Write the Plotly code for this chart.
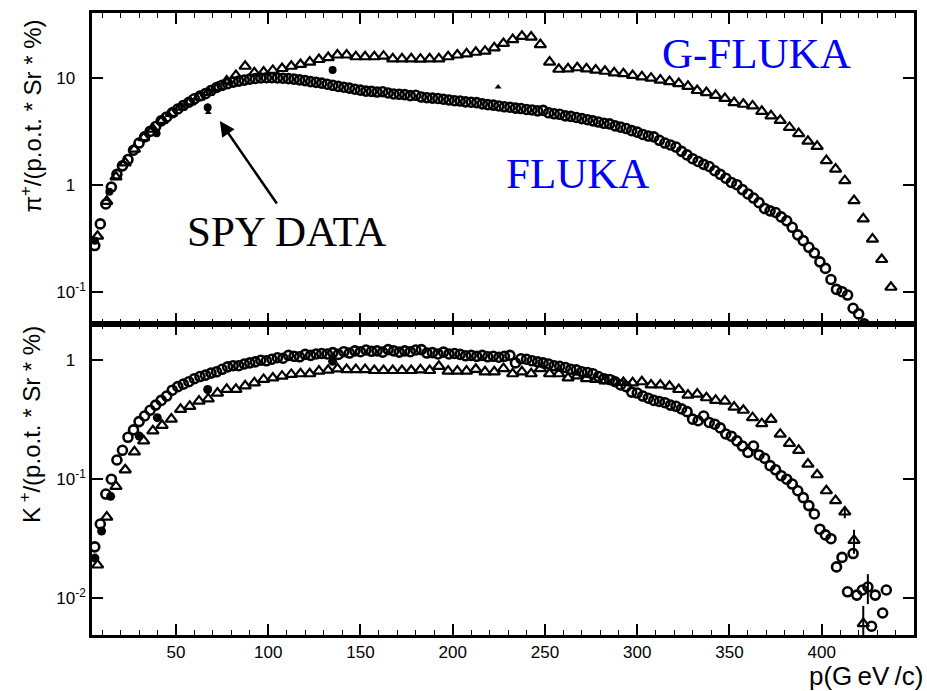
import plotly.graph_objects as go

# ---------------- pi+ panel ----------------
pi_fluka_p = [6, 9, 12, 15, 18, 21, 24, 27, 30, 33, 36, 39, 42, 45, 48, 51, 54, 57, 60, 63,
              66, 69, 72, 75, 78, 81, 84, 87, 90, 93, 96, 99, 102, 105, 108, 111, 114, 117, 120, 123,
              126, 129, 132, 135, 138, 141, 144, 147, 150, 153, 156, 159, 162, 165, 168, 171, 174, 177, 180, 183,
              186, 189, 192, 195, 198, 201, 204, 207, 210, 213, 216, 219, 222, 225, 228, 231, 234, 237, 240, 243,
              246, 249, 252, 255, 258, 261, 264, 267, 270, 273, 276, 279, 282, 285, 288, 291, 294, 297, 300, 303,
              306, 309, 312, 315, 318, 321, 324, 327, 330, 333, 336, 339, 342, 345, 348, 351, 354, 357, 360, 363,
              366, 369, 372, 375, 378, 381, 384, 387, 390, 393, 396, 399, 402, 405, 408, 411, 414, 417, 420, 423]
pi_fluka_v = [0.27, 0.43, 0.66, 0.95, 1.25, 1.5, 1.72, 2.1, 2.45, 2.8, 3.15, 3.5, 3.95, 4.3, 4.7, 5.1, 5.5, 5.9, 6.35, 6.75,
              7.1, 7.6, 8.1, 8.5, 8.8, 9.1, 9.3, 9.5, 9.7, 9.85, 9.95, 10.0, 10.0, 9.95, 9.9, 9.8, 9.7, 9.55, 9.4, 9.2,
              9.05, 8.9, 8.7, 8.5, 8.3, 8.15, 8.0, 7.8, 7.65, 7.5, 7.45, 7.35, 7.4, 7.2, 7.05, 7.0, 6.95, 6.8, 6.85, 6.6,
              6.5, 6.45, 6.4, 6.3, 6.2, 6.1, 6.05, 5.95, 5.9, 5.85, 5.7, 5.6, 5.55, 5.45, 5.35, 5.3, 5.2, 5.15, 5.05, 5.0,
              4.9, 4.95, 4.7, 4.6, 4.55, 4.4, 4.35, 4.25, 4.15, 4.05, 3.95, 3.85, 3.75, 3.7, 3.55, 3.45, 3.35, 3.2, 3.1, 2.95,
              2.85, 2.8, 2.6, 2.45, 2.35, 2.25, 2.05, 1.9, 1.75, 1.65, 1.55, 1.48, 1.35, 1.25, 1.15, 1.05, 1.0, 0.9, 0.82, 0.75,
              0.68, 0.6, 0.57, 0.55, 0.5, 0.46, 0.4, 0.34, 0.3, 0.26, 0.23, 0.19, 0.165, 0.13, 0.105, 0.1, 0.093, 0.07, 0.062, 0.05]

pi_gfluka_p = [7.5, 12.5, 17.5, 22.5, 27.5, 32.5, 37.5, 42.5, 47.5, 52.5, 57.5, 62.5, 67.5, 72.5, 77.5, 82.5, 87.5, 92.5,
               97.5, 102.5, 107.5, 112.5, 117.5, 122.5, 127.5, 132.5, 137.5, 142.5, 147.5, 152.5, 157.5, 162.5, 167.5,
               172.5, 177.5, 182.5, 187.5, 192.5, 197.5, 202.5, 207.5, 212.5, 217.5, 222.5, 227.5, 232.5, 237.5, 242.5,
               247.5, 252.5, 257.5, 262.5, 267.5, 272.5, 277.5, 282.5, 287.5, 292.5, 297.5, 302.5, 307.5, 312.5, 317.5,
               322.5, 327.5, 332.5, 337.5, 342.5, 347.5, 352.5, 357.5, 362.5, 367.5, 372.5, 377.5, 382.5, 387.5, 392.5,
               397.5, 402.5, 407.5, 412.5, 417.5, 422.5, 427.5, 432.5, 437.5]
pi_gfluka_v = [0.33, 0.7, 1.18, 1.6, 2.15, 2.75, 3.3, 4.0, 4.65, 5.3, 5.95, 6.6, 7.3, 8.1, 9.3, 10.5, 12.8, 11.1,
               11.3, 11.7, 12.2, 12.8, 13.3, 14.0, 14.8, 15.4, 16.3, 16.3, 15.7, 15.7, 15.7, 15.9, 15.0,
               15.0, 15.0, 14.9, 15.0, 15.0, 15.7, 16.3, 16.7, 17.3, 17.7, 19.0, 20.9, 22.7, 24.4, 24.0,
               20.4, 14.0, 12.0, 12.1, 12.4, 12.1, 11.8, 11.5, 11.1, 10.9, 10.5, 10.2, 9.9, 9.5, 9.2,
               8.8, 8.3, 7.6, 7.25, 6.85, 6.4, 5.85, 5.65, 5.45, 4.85, 4.4, 4.0, 3.43, 3.0, 2.55,
               2.28, 1.68, 1.4, 1.09, 0.71, 0.48, 0.31, 0.2, 0.11]

pi_spy_p = [6.1, 13.9, 39.5, 67.2, 134.9]
pi_spy_v = [0.30, 0.86, 3.03, 5.26, 11.8]
pi_spy_err = [0.02, 0.05, 0.15, 0.5, 0.6]
pi_spy2_p = [67.5, 224.6]
pi_spy2_v = [4.72, 8.2]

# ---------------- K+ panel ----------------
k_fluka_p = [6, 9, 12, 15, 18, 21, 24, 27, 30, 33, 36, 39, 42, 45, 48, 51, 54, 57, 60, 63,
             66, 69, 72, 75, 78, 81, 84, 87, 90, 93, 96, 99, 102, 105, 108, 111, 114, 117, 120, 123,
             126, 129, 132, 135, 138, 141, 144, 147, 150, 153, 156, 159, 162, 165, 168, 171, 174, 177, 180, 183,
             186, 189, 192, 195, 198, 201, 204, 207, 210, 213, 216, 219, 222, 225, 228, 231, 234, 237, 240, 243,
             246, 249, 252, 255, 258, 261, 264, 267, 270, 273, 276, 279, 282, 285, 288, 291, 294, 297, 300, 303,
             306, 309, 312, 315, 318, 321, 324, 327, 330, 333, 336, 339, 342, 345, 348, 351, 354, 357, 360, 363,
             366, 369, 372, 375, 378, 381, 384, 387, 390, 393, 396, 399, 402, 405, 408, 411, 414, 417, 419, 422,
             425, 427, 429, 433, 435]
k_fluka_v = [0.027, 0.042, 0.075, 0.1, 0.145, 0.175, 0.225, 0.26, 0.305, 0.34, 0.38, 0.42, 0.46, 0.5, 0.56, 0.6, 0.63, 0.66, 0.7, 0.73,
             0.75, 0.78, 0.8, 0.84, 0.88, 0.9, 0.9, 0.93, 0.95, 0.97, 1.0, 0.99, 1.02, 1.05, 1.04, 1.1, 1.08, 1.07, 1.12, 1.1,
             1.13, 1.14, 1.13, 1.16, 1.12, 1.18, 1.15, 1.2, 1.18, 1.22, 1.19, 1.2, 1.17, 1.23, 1.2, 1.17, 1.2, 1.18, 1.22, 1.23,
             1.15, 1.16, 1.13, 1.17, 1.13, 1.14, 1.12, 1.09, 1.1, 1.08, 1.1, 1.07, 1.08, 1.06, 1.08, 1.1, 0.95, 1.03, 1.02, 0.99,
             0.97, 0.95, 0.93, 0.9, 0.89, 0.87, 0.84, 0.83, 0.8, 0.79, 0.77, 0.73, 0.7, 0.69, 0.66, 0.62, 0.6, 0.54, 0.53, 0.5,
             0.48, 0.46, 0.45, 0.44, 0.42, 0.41, 0.39, 0.37, 0.32, 0.31, 0.34, 0.3, 0.29, 0.27, 0.24, 0.23, 0.21, 0.19, 0.168, 0.19,
             0.16, 0.15, 0.13, 0.12, 0.107, 0.1, 0.091, 0.08, 0.07, 0.06, 0.051, 0.038, 0.034, 0.0316, 0.0183, 0.022, 0.0113, 0.0237, 0.0106, 0.0117,
             0.0124, 0.0058, 0.0106, 0.0075, 0.0117]
k_fluka_err = [0] * 140 + [0.0035, 0, 0, 0, 0, 0.0012, 0, 0]

k_gfluka_p = pi_gfluka_p[:84]
k_gfluka_v = [0.019, 0.048, 0.087, 0.12, 0.17, 0.21, 0.255, 0.284, 0.32, 0.387, 0.41, 0.454, 0.474, 0.53, 0.57, 0.57, 0.61, 0.646,
              0.69, 0.71, 0.735, 0.76, 0.77, 0.77, 0.81, 0.825, 0.846, 0.835, 0.835, 0.835, 0.82, 0.82, 0.82,
              0.82, 0.82, 0.83, 0.82, 0.89, 0.81, 0.81, 0.81, 0.84, 0.8, 0.8, 0.85, 0.77, 0.8, 0.77,
              0.85, 0.77, 0.77, 0.71, 0.74, 0.7, 0.69, 0.67, 0.66, 0.65, 0.646, 0.66, 0.62, 0.62, 0.605,
              0.568, 0.51, 0.52, 0.484, 0.46, 0.454, 0.404, 0.38, 0.329, 0.293, 0.319, 0.239, 0.2, 0.175, 0.134,
              0.109, 0.080, 0.066, 0.053, 0.0306, 0.0061]
k_gfluka_err = [0] * 80 + [0, 0.006, 0.007, 0.0025]

k_spy_p = [6.1, 9.7, 14.6, 30.1, 39.9, 67.2, 134.9]
k_spy_v = [0.0217, 0.0366, 0.0718, 0.231, 0.329, 0.568, 0.98]
k_spy_err = [0.001, 0.002, 0.003, 0.01, 0.015, 0.03, 0.06]

BLACK = "#000000"
BLUE = "#0000FF"

fig = go.Figure()

def open_markers(x, y, symbol, size, width, xa, ya, err=None):
    tr = go.Scatter(
        x=x, y=y, mode="markers", xaxis=xa, yaxis=ya, showlegend=False,
        marker=dict(symbol=symbol, size=size, color=BLACK, line=dict(color=BLACK, width=width)),
    )
    if err is not None:
        tr.error_y = dict(type="data", array=err, visible=True, color=BLACK, thickness=2, width=0)
    return tr

# pi+ panel
fig.add_trace(open_markers(pi_fluka_p, pi_fluka_v, "circle-open", 9, 2.6, "x", "y"))
fig.add_trace(open_markers(pi_gfluka_p, pi_gfluka_v, "triangle-up-open", 10, 2.2, "x", "y"))
fig.add_trace(go.Scatter(x=pi_spy_p, y=pi_spy_v, mode="markers", xaxis="x", yaxis="y", showlegend=False,
                         marker=dict(symbol="circle", size=8, color=BLACK),
                         error_y=dict(type="data", array=pi_spy_err, visible=True, color=BLACK, thickness=2, width=0)))
fig.add_trace(go.Scatter(x=pi_spy2_p, y=pi_spy2_v, mode="markers", xaxis="x", yaxis="y", showlegend=False,
                         marker=dict(symbol="triangle-up", size=6, color=BLACK)))

# K+ panel
fig.add_trace(open_markers(k_fluka_p, k_fluka_v, "circle-open", 9, 2.6, "x2", "y2", k_fluka_err))
fig.add_trace(open_markers(k_gfluka_p, k_gfluka_v, "triangle-up-open", 10, 2.2, "x2", "y2", k_gfluka_err))
fig.add_trace(go.Scatter(x=k_spy_p, y=k_spy_v, mode="markers", xaxis="x2", yaxis="y2", showlegend=False,
                         marker=dict(symbol="circle", size=9, color=BLACK),
                         error_y=dict(type="data", array=k_spy_err, visible=True, color=BLACK, thickness=2, width=0)))

tick_font = dict(family="Liberation Sans, Arial, sans-serif", size=17, color=BLACK)
log_minor = [k * 10.0 ** e for e in range(-3, 2) for k in range(2, 10)]
HIDE = "<span style='color:rgba(0,0,0,0)'>-1</span>"

x_common = dict(range=[4.5, 450], tickmode="linear", tick0=0, dtick=50, ticks="inside", ticklen=11,
                tickwidth=1.5, tickcolor=BLACK, showline=True, linewidth=2.5, linecolor=BLACK,
                mirror="allticks", showgrid=False, zeroline=False, tickfont=tick_font,
                minor=dict(ticks="inside", ticklen=5, tickwidth=1.2, tickcolor=BLACK, dtick=10, tick0=0,
                           showgrid=False))
y_common = dict(type="log", ticks="inside", ticklen=11, tickwidth=1.5, tickcolor=BLACK, showline=True,
                linewidth=2.5, linecolor=BLACK, mirror="allticks", showgrid=False, zeroline=False,
                tickfont=tick_font, tickmode="array")
# second set of log axes carrying only the short 2..9 ticks
y_minor = dict(type="log", ticks="inside", ticklen=6, tickwidth=1.2, tickcolor=BLACK, showline=True,
               linewidth=2.5, linecolor=BLACK, mirror="allticks", showgrid=False, zeroline=False,
               tickmode="array", tickvals=log_minor, ticktext=[""] * len(log_minor), showticklabels=False)

TOP_RANGE = [-1.302, 1.605]
BOT_RANGE = [-2.31, 0.305]

fig.update_layout(
    width=927, height=691,
    margin=dict(l=92, r=13, t=10, b=56),
    paper_bgcolor="white", plot_bgcolor="white",
    xaxis=dict(x_common, domain=[0, 1], anchor="y", showticklabels=False),
    yaxis=dict(y_common, domain=[0.5, 1], anchor="x", range=TOP_RANGE,
               tickvals=[0.1, 1, 10], ticktext=["10<sup>-1</sup>", "1<sup>" + HIDE + "</sup>", "10<sup>" + HIDE + "</sup>"]),
    yaxis3=dict(y_minor, overlaying="y", anchor="x", side="left", range=TOP_RANGE),
    xaxis2=dict(x_common, domain=[0, 1], anchor="y2", matches="x"),
    yaxis2=dict(y_common, domain=[0, 0.5], anchor="x2", range=BOT_RANGE,
                tickvals=[0.01, 0.1, 1], ticktext=["10<sup>-2</sup>", "10<sup>-1</sup>", "1<sup>" + HIDE + "</sup>"]),
    yaxis4=dict(y_minor, overlaying="y2", anchor="x2", side="left", range=BOT_RANGE),
)

title_font = dict(family="Liberation Sans, Arial, sans-serif", size=24, color=BLACK)
serif_font = dict(family="Liberation Serif, Times New Roman, serif", size=43)

fig.add_annotation(xref="paper", yref="paper", x=-0.0754, y=0.8336, textangle=-90, showarrow=False,
                   text="π<sup>+</sup>/(p.o.t. * Sr * %)", font=title_font, xanchor="center", yanchor="middle")
fig.add_annotation(xref="paper", yref="paper", x=-0.0754, y=0.3376, textangle=-90, showarrow=False,
                   text="K<sup> +</sup>/(p.o.t. * Sr * %)", font=title_font, xanchor="center", yanchor="middle")
fig.add_annotation(xref="paper", yref="paper", x=1.0134, y=-0.066, showarrow=False,
                   text="p(G\u2009eV\u2009/c)", font=dict(title_font, size=26), xanchor="right", yanchor="middle")

fig.add_annotation(xref="paper", yref="paper", x=0.2366, y=0.648, showarrow=False,
                   text="SPY DATA", font=dict(serif_font, color=BLACK), xanchor="center", yanchor="middle")
fig.add_annotation(xref="paper", yref="paper", x=0.5906, y=0.7424, showarrow=False,
                   text="FLUKA", font=dict(serif_font, color=BLUE), xanchor="center", yanchor="middle")
fig.add_annotation(xref="paper", yref="paper", x=0.8086, y=0.9344, showarrow=False,
                   text="G-FLUKA", font=dict(serif_font, color=BLUE), xanchor="center", yanchor="middle")

# arrow pointing at the SPY data point near 70 GeV/c
fig.add_annotation(xref="x", yref="y", x=73.8, y=0.595, ax=58, ay=84, axref="pixel", ayref="pixel",
                   text="", showarrow=True, arrowhead=2, arrowsize=1.2, arrowwidth=2.5, arrowcolor=BLACK)

fig.write_html("out.html")
